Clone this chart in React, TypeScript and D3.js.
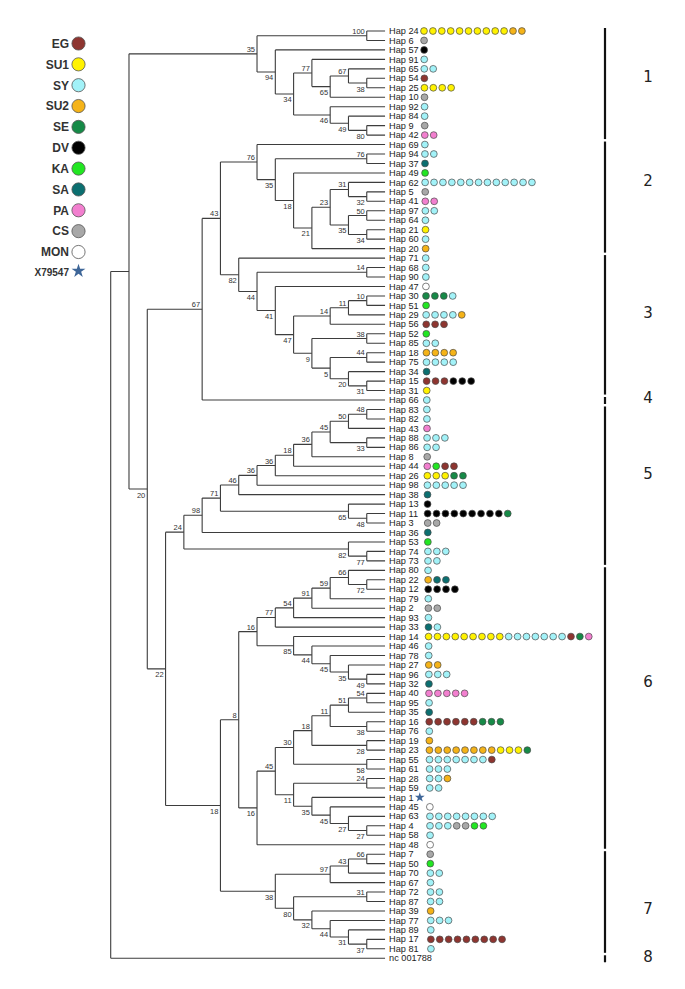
import React from "react";
import * as d3 from "d3";

const W = 685;
const H = 989;

type T = { name?: string; support?: number; children?: T[] };
const L = (name: string): T => ({ name });
const N = (support: number | undefined, a: T | string, b: T | string): T => ({
  support,
  children: [a, b].map((c) => (typeof c === "string" ? L(c) : c)),
});

// ---------- tree topology (bootstrap support on internal nodes) ----------
const clade1 = N(100, "Hap 24", "Hap 6");
const clade1b = N(94, "Hap 57", N(34,
  N(77, "Hap 91", N(65, N(67, "Hap 65", N(38, "Hap 54", "Hap 25")), "Hap 10")),
  N(46, "Hap 92", N(49, "Hap 84", N(80, "Hap 9", "Hap 42")))));
const group1 = N(35, clade1, clade1b);

const group2 = N(76, "Hap 69", N(35, N(76, "Hap 94", "Hap 37"), N(18, "Hap 49",
  N(21, N(23, N(31, "Hap 62", N(32, "Hap 5", "Hap 41")),
    N(35, N(50, "Hap 97", "Hap 64"), N(34, "Hap 21", "Hap 60"))), "Hap 20"))));

const group3 = N(82, "Hap 71", N(44, N(14, "Hap 68", "Hap 90"), N(41, "Hap 47",
  N(47, N(14, N(11, N(10, "Hap 30", "Hap 51"), "Hap 29"), "Hap 56"),
    N(9, N(38, "Hap 52", "Hap 85"), N(5, N(44, "Hap 18", "Hap 75"),
      N(20, "Hap 34", N(31, "Hap 15", "Hap 31"))))))));

const group4 = N(67, N(43, group2, group3), "Hap 66");

const group5 = N(24, N(98, N(71,
  N(46, N(36, N(36, N(18, N(36, N(45, N(50, N(48, "Hap 83", "Hap 82"), "Hap 43"),
    N(33, "Hap 88", "Hap 86")), "Hap 8"), "Hap 44"), "Hap 26"), "Hap 98"), "Hap 38"),
  N(65, "Hap 13", N(48, "Hap 11", "Hap 3"))), "Hap 36"),
  N(82, "Hap 53", N(77, "Hap 74", "Hap 73")));

const group6a = N(16,
  N(77, N(54, N(91, N(59, N(66, "Hap 80", N(72, "Hap 22", "Hap 12")), "Hap 79"), "Hap 2"), "Hap 93"), "Hap 33"),
  N(85, "Hap 14", N(44, "Hap 46", N(45, "Hap 78", N(35, "Hap 27", N(49, "Hap 96", "Hap 32"))))));
const group6b = N(16, N(45,
  N(30, N(18, N(11, N(51, N(54, "Hap 40", "Hap 95"), "Hap 35"), N(38, "Hap 16", "Hap 76")),
    N(28, "Hap 19", "Hap 23")), N(58, "Hap 55", "Hap 61")),
  N(11, N(24, "Hap 28", "Hap 59"), N(35, "Hap 1", N(45, "Hap 45", N(27, "Hap 63", N(27, "Hap 4", "Hap 58")))))),
  "Hap 48");
const group6 = N(8, group6a, group6b);

const group7 = N(38, N(97, N(43, N(66, "Hap 7", "Hap 50"), "Hap 70"), "Hap 67"),
  N(80, N(31, "Hap 72", "Hap 87"), N(32, "Hap 39", N(44, "Hap 77", N(31, "Hap 89", N(37, "Hap 17", "Hap 81"))))));

const treeRoot = N(undefined, N(undefined, group1, N(20, group4, N(22, group5, N(18, group6, group7)))), "nc 001788");

// ---------- legend categories ----------
const categories = ["EG", "SU1", "SY", "SU2", "SE", "DV", "KA", "SA", "PA", "CS", "MON"];
const categoryColors = ["#8E3530", "#FFF200", "#A2F2F8", "#F5B318", "#168A47", "#000000", "#22E622", "#0B6F70", "#F27FCF", "#A8A8A8", "#FFFFFF"];
const refLabel = "X79547";

// ---------- haplotype sample counts per region ----------
const hapDots: [string, string][] = [
  ["Hap 24", "SU1:10 SU2:2"], ["Hap 6", "CS"], ["Hap 57", "DV"], ["Hap 91", "SY"], ["Hap 65", "SY:2"],
  ["Hap 54", "EG"], ["Hap 25", "SU1:4"], ["Hap 10", "CS"], ["Hap 92", "SY"], ["Hap 84", "SY"],
  ["Hap 9", "CS"], ["Hap 42", "PA:2"], ["Hap 69", "SY"], ["Hap 94", "SY:2"], ["Hap 37", "SA"],
  ["Hap 49", "KA"], ["Hap 62", "SY:13"], ["Hap 5", "CS"], ["Hap 41", "PA:2"], ["Hap 97", "SY:2"],
  ["Hap 64", "SY"], ["Hap 21", "SU1"], ["Hap 60", "SY"], ["Hap 20", "SU2"], ["Hap 71", "SY"],
  ["Hap 68", "SY"], ["Hap 90", "SY"], ["Hap 47", "MON"], ["Hap 30", "SE:3 SY"], ["Hap 51", "KA"],
  ["Hap 29", "SY:4 SU2"], ["Hap 56", "EG:3"], ["Hap 52", "KA"], ["Hap 85", "SY:2"], ["Hap 18", "SU2:4"],
  ["Hap 75", "SY:4"], ["Hap 34", "SA"], ["Hap 15", "EG:3 DV:3"], ["Hap 31", "SU1"], ["Hap 66", "SY"],
  ["Hap 83", "SY"], ["Hap 82", "SY"], ["Hap 43", "PA"], ["Hap 88", "SY:3"], ["Hap 86", "SY:2"],
  ["Hap 8", "CS"], ["Hap 44", "PA KA EG:2"], ["Hap 26", "SU1:3 SE:2"], ["Hap 98", "SY:5"], ["Hap 38", "SA"],
  ["Hap 13", "DV"], ["Hap 11", "DV:9 SE"], ["Hap 3", "CS:2"], ["Hap 36", "SA"], ["Hap 53", "KA"],
  ["Hap 74", "SY:3"], ["Hap 73", "SY:2"], ["Hap 80", "SY"], ["Hap 22", "SU2 SA:2"], ["Hap 12", "DV:4"],
  ["Hap 79", "SY"], ["Hap 2", "CS:2"], ["Hap 93", "SY"], ["Hap 33", "SA SY"], ["Hap 14", "SU1:9 SY:7 EG SE PA"],
  ["Hap 46", "SY"], ["Hap 78", "SY"], ["Hap 27", "SU2:2"], ["Hap 96", "SY:3"], ["Hap 32", "SA"],
  ["Hap 40", "PA:5"], ["Hap 95", "SY"], ["Hap 35", "SA"], ["Hap 16", "EG:6 SE:3"], ["Hap 76", "SY"],
  ["Hap 19", "SU2"], ["Hap 23", "SU2:8 SU1:3 SE"], ["Hap 55", "SY:7 EG"], ["Hap 61", "SY:3"], ["Hap 28", "SY:2 SU2"],
  ["Hap 59", "SY:2"], ["Hap 1", "STAR"], ["Hap 45", "MON"], ["Hap 63", "SY:8"], ["Hap 4", "SY:3 CS:2 KA:2"],
  ["Hap 58", "SY"], ["Hap 48", "MON"], ["Hap 7", "CS"], ["Hap 50", "KA"], ["Hap 70", "SY:2"],
  ["Hap 67", "SY"], ["Hap 72", "SY:2"], ["Hap 87", "SY:2"], ["Hap 39", "SU2"], ["Hap 77", "SY:3"],
  ["Hap 89", "SY"], ["Hap 17", "EG:9"], ["Hap 81", "SY"],
];

// ---------- clade groups on the right ----------
const cladeNames = ["1", "2", "3", "4", "5", "6", "7", "8"];
const cladeFirst = ["Hap 24", "Hap 69", "Hap 71", "Hap 66", "Hap 83", "Hap 80", "Hap 7", "nc 001788"];
const cladeLast = ["Hap 42", "Hap 20", "Hap 31", "Hap 66", "Hap 73", "Hap 48", "Hap 81", "nc 001788"];
const cladeLabelAt = ["Hap 54", "Hap 62", "Hap 29", "Hap 66", "Hap 26", "Hap 32", "Hap 39", "nc 001788"];

const dotList = (spec: string): string[] =>
  spec.split(" ").flatMap((p) => {
    const [c, n] = p.split(":");
    return Array(Number(n || 1)).fill(c);
  });

export default function App() {
  const TOP = 31;
  const STEP = 9.462;
  const COL = 18.29;
  const X0 = 110.7;

  const root = d3.hierarchy<T>(treeRoot, (d) => d.children);
  d3.cluster<T>().nodeSize([STEP, COL]).separation(() => 1)(root);
  const leaves = root.leaves();
  const minX = d3.min(leaves, (d) => d.x as number) as number;
  const sx = (n: d3.HierarchyNode<T>) => X0 + (n as any).y;
  const sy = (n: d3.HierarchyNode<T>) => TOP + ((n as any).x - minX);

  const color = d3.scaleOrdinal<string, string>().domain(categories).range(categoryColors);
  const dotStart = d3.scaleLinear().domain([0, leaves.length - 1]).range([424, 431]);
  const DOT_STEP = 8.9;
  const dotMap = new Map(hapDots);
  const leafIndex = new Map(leaves.map((l, i) => [l.data.name as string, i]));
  const leafY = (name: string) => sy(leaves[leafIndex.get(name) as number]);

  const legendY = d3.scaleLinear().domain([0, categories.length - 1]).range([43.5, 252]);
  const star = d3.symbol().type(d3.symbolStar);

  const lineColor = "#3d3d3d";
  const internals = root.descendants().filter((d) => d.children);

  return (
    <svg width={W} height={H} style={{ position: "absolute", left: 0, top: 0, background: "#fff" }}
      fontFamily="'Liberation Sans', Arial, sans-serif">
      {/* branches */}
      <g stroke={lineColor} strokeWidth={1.1} fill="none">
        {internals.map((n, i) => {
          const ch = n.children!;
          const x = sx(n);
          let d = `M${x},${sy(ch[0])}V${sy(ch[ch.length - 1])}`;
          ch.forEach((c) => {
            d += `M${x},${sy(c)}H${sx(c)}`;
          });
          return <path key={i} d={d} />;
        })}
      </g>
      {/* bootstrap supports */}
      <g fontSize={7.5} fill="#333" textAnchor="end">
        {root.descendants().filter((d) => d.data.support !== undefined && d.parent).map((n, i) => {
          const first = n.parent!.children![0] === n;
          return (
            <text key={i} x={sx(n) - 2} y={first ? sy(n) - 2 : sy(n) + 8.5}>
              {n.data.support}
            </text>
          );
        })}
      </g>
      {/* leaf labels and dots */}
      {leaves.map((l, i) => {
        const y = sy(l);
        const name = l.data.name as string;
        const dots = dotMap.has(name) ? dotList(dotMap.get(name) as string) : [];
        return (
          <g key={name}>
            <text x={sx(l) + 4} y={y} dy="0.34em" fontSize={9.2} fill="#222">{name}</text>
            {dots.map((c, k) =>
              c === "STAR" ? (
                <path key={k} d={star.size(30)() as string} transform={`translate(${dotStart(i) - 10},${y})`} fill="#3E6698" />
              ) : (
                <circle key={k} cx={dotStart(i) + k * DOT_STEP} cy={y} r={3.4}
                  fill={color(c)} stroke="#4a4a4a" strokeWidth={0.7} />
              )
            )}
          </g>
        );
      })}
      {/* legend */}
      <g fontWeight="bold" fontSize={12} fill="#333" textAnchor="end">
        {categories.map((c, i) => (
          <g key={c}>
            <text x={69} y={legendY(i)} dy="0.36em">{c}</text>
            <circle cx={78.5} cy={legendY(i)} r={6.6} fill={color(c)} stroke="#555" strokeWidth={0.8} />
          </g>
        ))}
        <text x={69} y={272} dy="0.36em" fontSize={10}>{refLabel}</text>
        <path d={star.size(60)() as string} transform="translate(78.5,271)" fill="#3E6698" />
      </g>
      {/* clade bars */}
      <g>
        {cladeNames.map((c, i) => {
          const y0 = leafY(cladeFirst[i]) - 3;
          const y1 = leafY(cladeLast[i]) + 4;
          return (
            <g key={c}>
              <line x1={605} x2={605} y1={y0} y2={y1} stroke="#111" strokeWidth={2.2} />
              <text x={648} y={leafY(cladeLabelAt[i]) - 2} dy="0.36em" textAnchor="middle" fontSize={15}
                fontFamily="'DejaVu Sans', sans-serif" fill="#222">{c}</text>
            </g>
          );
        })}
      </g>
    </svg>
  );
}
